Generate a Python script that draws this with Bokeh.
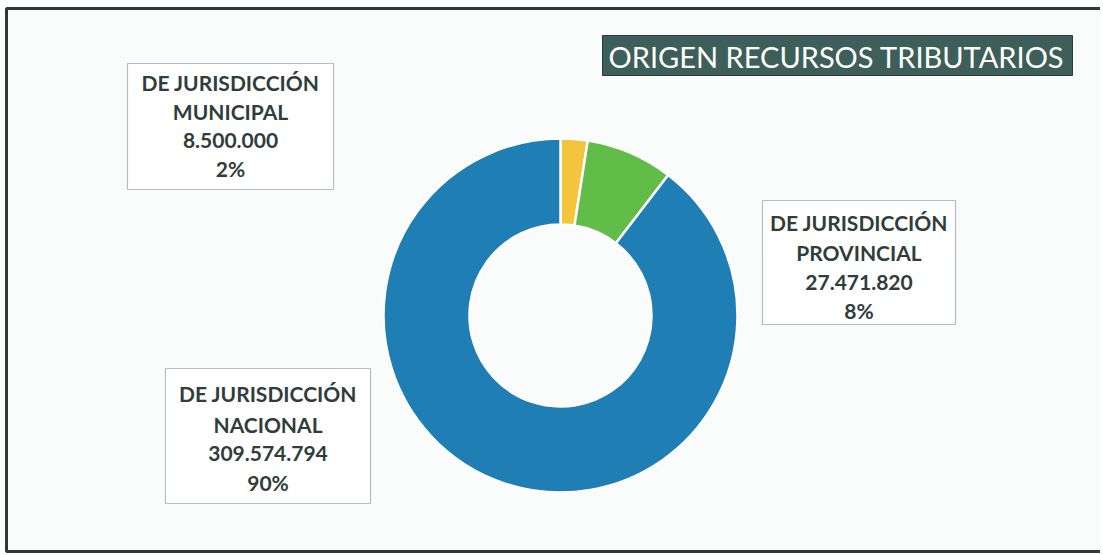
import math
from bokeh.plotting import figure
from bokeh.models import Range1d, ColumnDataSource
from bokeh.core.properties import value
from bokeh.embed import file_html
from bokeh.resources import INLINE

# ---- data ----
prefix = "DE JURISDICCIÓN"
categories = ["MUNICIPAL", "PROVINCIAL", "NACIONAL"]
amounts = [8500000, 27471820, 309574794]
colors = ["#f2c53d", "#62bd48", "#1f7fb5"]
title_text = "ORIGEN RECURSOS TRIBUTARIOS"

W, H = 1100, 553
FONT = "Lato"

def py(Y):
    # screenshot pixel row -> plot y
    return H - Y

def px(X):
    return X

p = figure(width=W, height=H, output_backend="svg", toolbar_location=None,
           x_range=Range1d(0, W), y_range=Range1d(0, H),
           x_axis_location=None, y_axis_location=None, min_border=0)
p.grid.visible = False
p.background_fill_color = "#ffffff"
p.border_fill_color = "#ffffff"
p.outline_line_color = None

# outer frame
p.quad(left=px(6), right=px(1101), top=py(8), bottom=py(551),
       fill_color="#fafcfc", line_color="#2b3b38", line_width=3)

# ---- donut ----
total = sum(amounts)
starts, ends = [], []
a = math.pi / 2
for v in amounts:
    starts.append(a)
    a = a - v / total * 2 * math.pi
    ends.append(a)
src = ColumnDataSource(dict(start=starts, end=ends, color=colors))
cx, cy = px(560), py(315)
p.annular_wedge(x=cx, y=cy, inner_radius=91, outer_radius=177,
                inner_radius_units="screen", outer_radius_units="screen",
                start_angle="end", end_angle="start", direction="anticlock",
                fill_color="color", line_color="white", line_width=2.5, source=src)

# ---- title box ----
p.quad(left=px(602), right=px(1072), top=py(35), bottom=py(75),
       fill_color="#3e5f59", line_color="#2b3b38", line_width=1)
p.text(x=[px(836)], y=[py(56)], text=[title_text], text_font=value(FONT),
       text_font_size="29px", text_color="white", text_align="center",
       text_baseline="middle")

# ---- label boxes ----
boxes = [  # left, right, top, bottom (page px), line centers
    (127, 333, 63, 189, [82, 111, 140, 168]),
    (762, 955, 200, 324, [222, 252, 282, 310]),
    (165, 370, 368, 503, [393, 424, 453, 482]),
]
for i, (l, r, t, b, lines) in enumerate(boxes):
    p.quad(left=px(l), right=px(r), top=py(t), bottom=py(b),
           fill_color="white", line_color="#b9bcbc", line_width=1.2)
    amt = f"{amounts[i]:,}".replace(",", ".")
    pct = f"{round(amounts[i] / total * 100)}%"
    texts = [prefix, categories[i], amt, pct]
    xc = px((l + r) / 2)
    p.text(x=[xc] * 4, y=[py(Y) for Y in lines], text=texts,
           text_font=value(FONT), text_font_style="bold", text_font_size="21px",
           text_color="#2f3d3b", text_align="center", text_baseline="middle")

open("out.html", "w").write(file_html(p, INLINE))
